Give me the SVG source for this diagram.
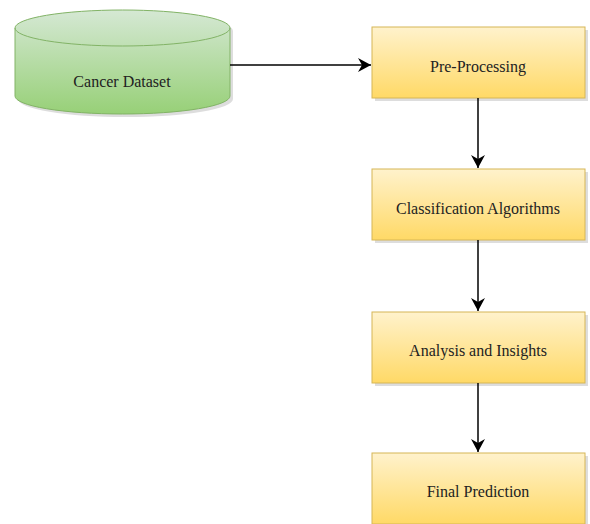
<svg xmlns="http://www.w3.org/2000/svg" width="590" height="524" viewBox="0 0 590 524">
<defs>
<linearGradient id="gy" x1="0" y1="0" x2="0" y2="1"><stop offset="0" stop-color="#fff2cc"/><stop offset="1" stop-color="#ffd966"/></linearGradient>
<linearGradient id="gg" x1="0" y1="0" x2="0" y2="1"><stop offset="0" stop-color="#d5e8d4"/><stop offset="1" stop-color="#97d077"/></linearGradient>
<marker id="ah" markerWidth="14" markerHeight="14" viewBox="0 0 14 14" refX="13" refY="7" orient="auto" markerUnits="userSpaceOnUse"><path d="M0,0 L13,7 L0,14 L4,7 Z" fill="#000"/></marker>
</defs>
<style>
.box{fill:url(#gy);stroke:#d6b656;stroke-width:1}
.sh{fill:#bbb;opacity:0.5}
.t{font-family:"Liberation Serif",serif;font-size:16px;fill:#222;text-anchor:middle;dominant-baseline:central}
.c{stroke:#000;stroke-width:1.5;fill:none;marker-end:url(#ah)}
</style>
<rect width="590" height="524" fill="#fff"/>
<g id="cancer-dataset">
<path class="sh" d="M18,31 A107,18 0 0 1 233,31 L233,99 A107,18 0 0 1 18,99 Z"/>
<path d="M15,28 A107.5,18 0 0 1 230,28 L230,96 A107.5,18 0 0 1 15,96 Z" fill="url(#gg)" stroke="#82b366"/>
<path d="M15,28 A107.5,18 0 0 0 230,28" fill="none" stroke="#82b366"/>
<text class="t" x="122" y="81">Cancer Dataset</text>
</g>
<g id="pre-processing">
<rect class="sh" x="375" y="30" width="213" height="71"/>
<rect class="box" x="372" y="27" width="213" height="71"/>
<text class="t" x="478" y="66">Pre-Processing</text>
</g>
<g id="classification">
<rect class="sh" x="375" y="172" width="213" height="71"/>
<rect class="box" x="372" y="169" width="213" height="71"/>
<text class="t" x="478" y="208">Classification Algorithms</text>
</g>
<g id="analysis">
<rect class="sh" x="375" y="315" width="213" height="71"/>
<rect class="box" x="372" y="312" width="213" height="71"/>
<text class="t" x="478" y="350">Analysis and Insights</text>
</g>
<g id="final-prediction">
<rect class="sh" x="375" y="456" width="213" height="71"/>
<rect class="box" x="372" y="453" width="213" height="71"/>
<text class="t" x="478" y="491">Final Prediction</text>
</g>
<g id="connectors">
<path class="c" d="M230,65 L371,65"/>
<path class="c" d="M478,98 L478,168"/>
<path class="c" d="M478,240 L478,311"/>
<path class="c" d="M478,383 L478,452"/>
</g>
</svg>
